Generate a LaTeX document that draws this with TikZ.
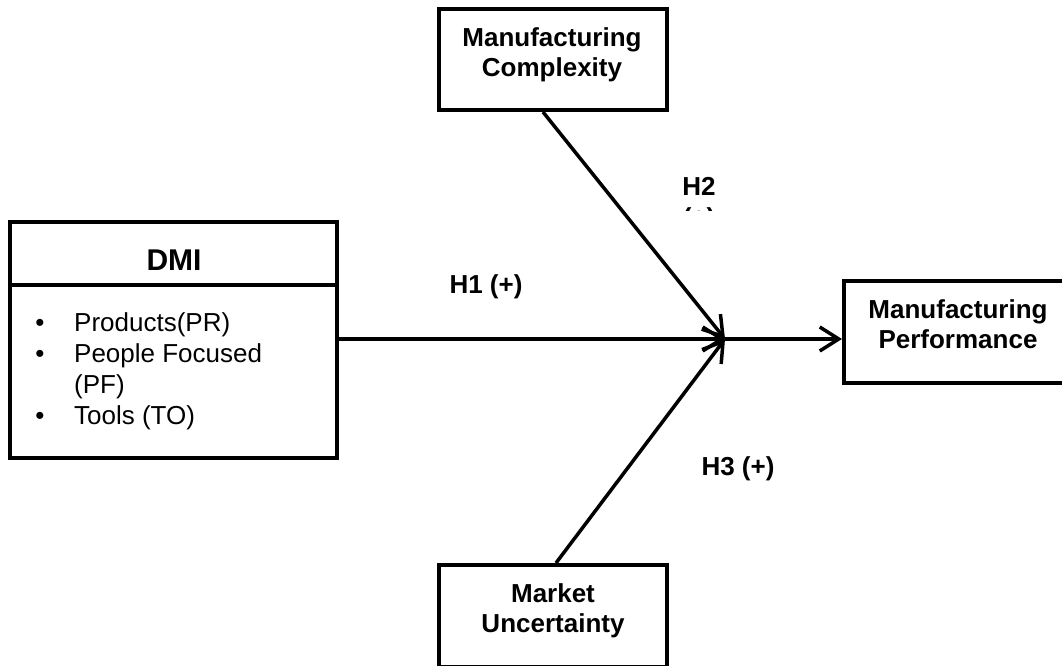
\documentclass[tikz,border=0pt]{standalone}
\usepackage{fontspec}
\setmainfont{Liberation Sans}
\usetikzlibrary{arrows.meta}
\begin{document}
\begin{tikzpicture}[x=1pt,y=-1pt,
  box/.style={draw, line width=4pt, inner sep=0pt, rectangle},
  lbl/.style={font=\fontsize{26}{30}\selectfont\bfseries, anchor=base, inner sep=0pt},
  itemtxt/.style={font=\fontsize{26}{30}\selectfont, anchor=base west, inner sep=0pt},
  bul/.style={font=\fontsize{26}{30}\selectfont, anchor=base, inner sep=0pt},
  conn/.style={line width=3.5pt, -{Straight Barb[length=19pt,width=24pt,line width=3.5pt]}}
]
\clip (0,0) rectangle (1062,666);
\fill[white] (0,0) rectangle (1062,666);
% boxes
\node[box, minimum width=228pt, minimum height=101pt] (mc) at (553,59.5) {};
\node[box, minimum width=228pt, minimum height=102pt] (mu) at (553,616) {};
\node[box, minimum width=234pt, minimum height=102pt] (mp) at (961,332) {};
\node[box, minimum width=327pt, minimum height=236pt] (dmi) at (173.5,340) {};
\draw[line width=4pt] ([yshift=-65pt]dmi.north west) -- ([yshift=-65pt]dmi.north east);
% texts
\node[lbl] (mc1) at (552,47) {Manufacturing};
\node[lbl] (mc2) at (552,77) {Complexity};
\node[lbl] (mu1) at (553,602) {Market};
\node[lbl] (mu2) at (553,632) {Uncertainty};
\node[lbl] (mp1) at (958,318) {Manufacturing};
\node[lbl] (mp2) at (958,348) {Performance};
\node[font=\fontsize{30}{34}\selectfont\bfseries, anchor=base, inner sep=0pt] (dmit) at (174,270) {DMI};
\node[bul] (b1) at (40,331) {•};
\node[itemtxt] (i1) at (74,331) {Products(PR)};
\node[bul] (b2) at (40,362) {•};
\node[itemtxt] (i2) at (74,362) {People Focused};
\node[itemtxt] (i2b) at (74,393) {(PF)};
\node[bul] (b3) at (40,424) {•};
\node[itemtxt] (i3) at (74,424) {Tools (TO)};
% connectors
\coordinate (j) at (725,339);
\draw[conn] (dmi.east |- j) -- (j);
\draw[conn] ([xshift=-10pt]mc.south) -- (j);
\draw[conn] ([xshift=3pt]mu.north) -- (j);
\draw[conn] (j) -- (mp.west |- j);
% labels
\node[lbl] (h1) at (486,293) {H1 (+)};
\node[lbl] (h3) at (738,475) {H3 (+)};
\node[lbl] (h2) at (699,195) {H2};
\begin{scope}
\clip (600,150) rectangle (800,210);
\node[lbl] (h2b) at (699,226) {(+)};
\end{scope}
\end{tikzpicture}
\end{document}
